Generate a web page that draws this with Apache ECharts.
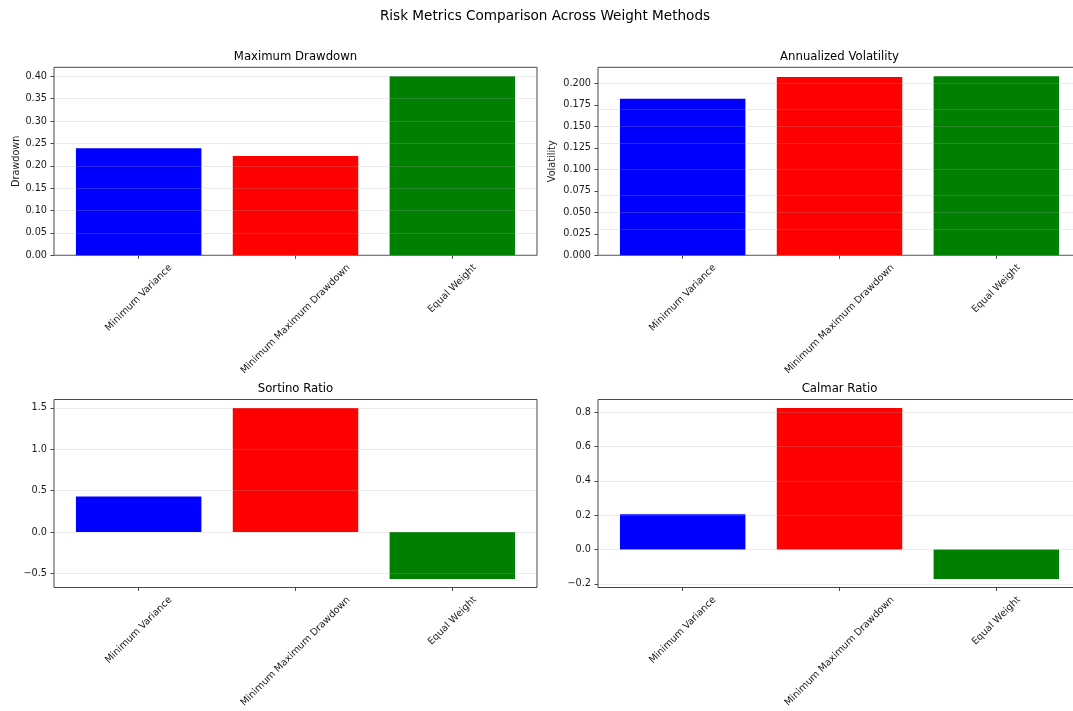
<!DOCTYPE html>
<html>
<head>
<meta charset="utf-8">
<script src="https://cdn.jsdelivr.net/npm/echarts@6/dist/echarts.min.js"></script>
<style>
  html, body { margin: 0; padding: 0; background: #ffffff; }
  #chart { width: 1073px; height: 711px; }
</style>
</head>
<body>
<div id="chart"></div>
<script>
// Portfolio weighting methods compared across four risk metrics
const methods = ['Minimum Variance', 'Minimum Maximum Drawdown', 'Equal Weight'];
const barColors = ['#0000ff', '#ff0000', '#008000'];

const maxDrawdown = [0.239, 0.222, 0.400];
const annualVolatility = [0.182, 0.2074, 0.2082];
const sortinoRatio = [0.429, 1.499, -0.566];
const calmarRatio = [0.206, 0.823, -0.171];

const drawdownTicks = [0, 0.05, 0.10, 0.15, 0.20, 0.25, 0.30, 0.35, 0.40];
const volatilityTicks = [0, 0.025, 0.05, 0.075, 0.10, 0.125, 0.15, 0.175, 0.20];
const sortinoTicks = [-0.5, 0, 0.5, 1.0, 1.5];
const calmarTicks = [-0.2, 0, 0.2, 0.4, 0.6, 0.8];

const figureTitle = 'Risk Metrics Comparison Across Weight Methods';
const panelTitles = ['Maximum Drawdown', 'Annualized Volatility', 'Sortino Ratio', 'Calmar Ratio'];
const panelYNames = ['Drawdown', 'Volatility', '', ''];

const FONT = '"DejaVu Sans", "Liberation Sans", sans-serif';
const TICK_FS = 9.7;
const TITLE_FS = 11.7;
const SUPTITLE_FS = 13.6;

// subplot layout (pixels); the right-hand column runs past the canvas edge
const PANEL_W = 483, PANEL_H = 188;
const panelLefts = [54, 598, 54, 598];
const panelTops = [67.3, 67.3, 399.5, 399.5];
const nameGaps = [32, 41, 0, 0];
const X_MIN = -0.54, X_MAX = 2.54;

const panels = [
  { values: maxDrawdown, ticks: drawdownTicks, decimals: 2 },
  { values: annualVolatility, ticks: volatilityTicks, decimals: 3 },
  { values: sortinoRatio, ticks: sortinoTicks, decimals: 1 },
  { values: calmarRatio, ticks: calmarTicks, decimals: 1 }
];

// y limits: bars stick to zero, otherwise 5% padding around the data
function yLimits(vals) {
  const lo = Math.min(0, ...vals), hi = Math.max(0, ...vals);
  const span = hi - lo;
  return [lo < 0 ? lo - 0.05 * span : 0, hi > 0 ? hi + 0.05 * span : 0];
}

function fmt(v, d) {
  const s = Math.abs(v).toFixed(d);
  return v < -1e-12 ? '\u2212' + s : s;
}

const chart = echarts.init(document.getElementById('chart'), null, { renderer: 'canvas' });

const grids = [], xAxes = [], yAxes = [], series = [];
panels.forEach((p, i) => {
  const [lo, hi] = yLimits(p.values);
  p.lo = lo; p.hi = hi;
  grids.push({
    left: panelLefts[i], top: panelTops[i], width: PANEL_W, height: PANEL_H,
    show: true, borderColor: '#333333', borderWidth: 0.9, backgroundColor: 'transparent',
    containLabel: false, outerBoundsMode: 'none'
  });
  xAxes.push({
    type: 'value', gridIndex: i, min: X_MIN, max: X_MAX, position: 'bottom',
    axisLine: { show: false, onZero: false },
    splitLine: { show: false },
    axisTick: { show: true, customValues: [0, 1, 2], length: 3.5, inside: false,
      lineStyle: { color: '#333333', width: 0.9 } },
    axisLabel: { show: false }
  });
  yAxes.push({
    type: 'value', gridIndex: i, min: lo, max: hi, position: 'left',
    axisLine: { show: false, onZero: false },
    splitLine: { show: false },
    axisTick: { show: true, customValues: p.ticks, length: 3.5, inside: false,
      lineStyle: { color: '#333333', width: 0.9 } },
    axisLabel: {
      customValues: p.ticks, margin: 7,
      formatter: v => fmt(v, p.decimals),
      fontSize: TICK_FS, fontFamily: FONT, color: '#1a1a1a'
    },
    name: panelYNames[i], nameLocation: 'middle', nameGap: nameGaps[i],
    nameTextStyle: { fontSize: TICK_FS, fontFamily: FONT, color: '#1a1a1a' }
  });
  series.push({
    type: 'bar', xAxisIndex: i, yAxisIndex: i, barWidth: '80%',
    data: p.values.map((v, k) => ({ value: [k, v], itemStyle: { color: barColors[k] } })),
    markLine: {
      silent: true, symbol: ['none', 'none'], animation: false,
      label: { show: false },
      lineStyle: { color: 'rgba(176,176,176,0.3)', width: 0.8, type: 'solid' },
      data: p.ticks.map(t => ({ yAxis: t }))
    }
  });
});

chart.setOption({
  animation: false,
  backgroundColor: '#ffffff',
  grid: grids, xAxis: xAxes, yAxis: yAxes, series: series
});

// titles and rotated category labels (centred under each tick, as a 45° block)
const measureCtx = document.createElement('canvas').getContext('2d');
measureCtx.font = TICK_FS + 'px ' + FONT;
const graphics = [];
graphics.push({
  type: 'text', x: 545, y: 16,
  style: { text: figureTitle, fontSize: SUPTITLE_FS, fontFamily: FONT, fill: '#000',
    align: 'center', verticalAlign: 'middle' }
});
panels.forEach((p, i) => {
  graphics.push({
    type: 'text', x: panelLefts[i] + PANEL_W / 2, y: panelTops[i] - 10.5,
    style: { text: panelTitles[i], fontSize: TITLE_FS, fontFamily: FONT, fill: '#000',
      align: 'center', verticalAlign: 'middle' }
  });
  methods.forEach((m, k) => {
    const pt = chart.convertToPixel({ gridIndex: i }, [k, p.lo]);
    const L = measureCtx.measureText(m).width;
    const H = TICK_FS * 1.17;
    const boxH = (L + H) * Math.SQRT1_2;
    graphics.push({
      type: 'text', x: pt[0], y: pt[1] + 6.8 + boxH / 2, rotation: Math.PI / 4,
      style: { text: m, fontSize: TICK_FS, fontFamily: FONT, fill: '#1a1a1a',
        align: 'center', verticalAlign: 'middle' }
    });
  });
});
chart.setOption({ graphic: graphics });
</script>
</body>
</html>
